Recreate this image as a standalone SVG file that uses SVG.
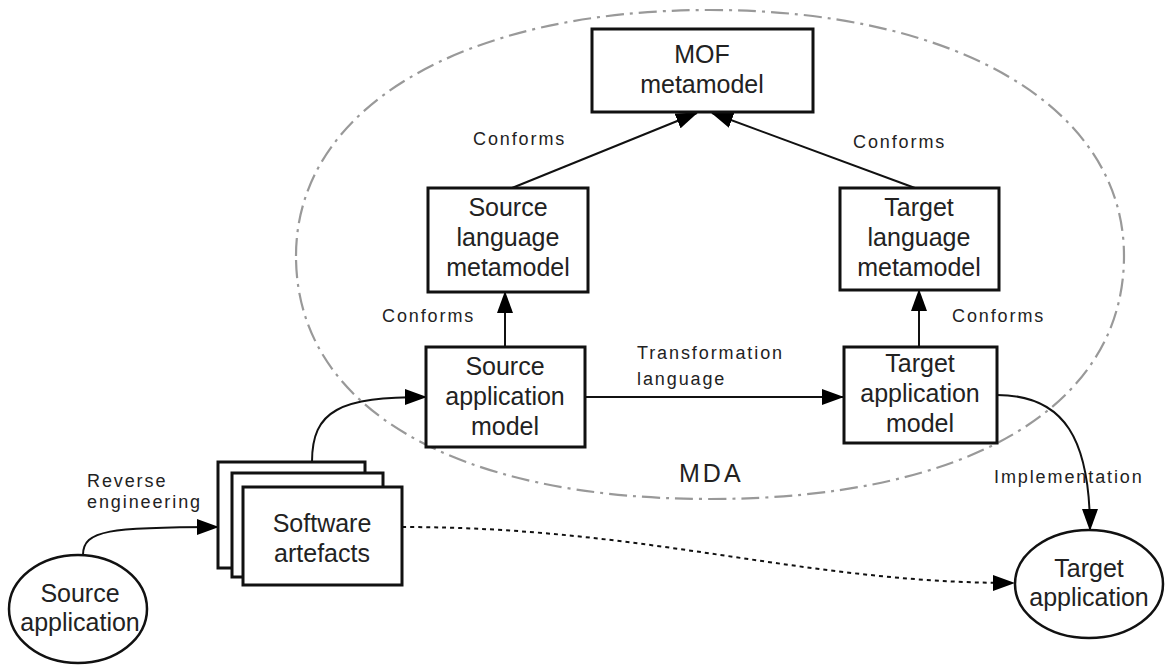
<svg xmlns="http://www.w3.org/2000/svg" width="1167" height="667" viewBox="0 0 1167 667">
<style>
.box{fill:#fff;stroke:#111;stroke-width:3}
.node{font-family:"Liberation Sans",Arial,sans-serif;font-size:25px;fill:#222;text-anchor:middle}
.lbl{font-family:"Liberation Sans",Arial,sans-serif;font-size:18px;fill:#222;letter-spacing:1.9px}
.con{fill:none;stroke:#111;stroke-width:2}
.dot{fill:none;stroke:#111;stroke-width:2;stroke-dasharray:4 4}
</style>
<defs>
<marker id="ah" markerUnits="userSpaceOnUse" markerWidth="22" markerHeight="16" refX="21" refY="8" orient="auto">
<path d="M0,0 L22,8 L0,16 z" fill="#000"/>
</marker>
</defs>
<rect width="1167" height="667" fill="#fff"/>
<g id="mda">
<path d="M296,256 C296,108 462,10 710,10 C958,10 1124,108 1124,256 C1124,407 967,499 710,499 C453,499 296,407 296,256 Z" fill="none" stroke="#999" stroke-width="2.2" stroke-dasharray="18 6 3 6"/>
<text x="679" y="482" font-family="Liberation Sans,Arial,sans-serif" font-size="25" fill="#222" letter-spacing="3">MDA</text>
</g>
<g id="connectors">
<line class="con" x1="512" y1="188" x2="697" y2="113" marker-end="url(#ah)"/>
<line class="con" x1="915" y1="188" x2="712" y2="113" marker-end="url(#ah)"/>
<line class="con" x1="505" y1="347" x2="505" y2="292" marker-end="url(#ah)"/>
<line class="con" x1="919" y1="347" x2="919" y2="290" marker-end="url(#ah)"/>
<line class="con" x1="585" y1="397" x2="843" y2="397" marker-end="url(#ah)"/>
<path class="con" d="M312,462 C312,410 340,397 426,397" marker-end="url(#ah)"/>
<path class="con" d="M83,555 C83,530 110,527 218,527" marker-end="url(#ah)"/>
<path class="con" d="M997,395 C1065,395 1090,440 1090,530" marker-end="url(#ah)"/>
<path class="dot" d="M402,527 C650,527 800,583 1014,583" marker-end="url(#ah)"/>
<text class="lbl" x="473" y="145">Conforms</text>
<text class="lbl" x="853" y="148">Conforms</text>
<text class="lbl" x="382" y="322">Conforms</text>
<text class="lbl" x="952" y="322">Conforms</text>
<text class="lbl" x="637" y="359">Transformation</text>
<text class="lbl" x="637" y="385">language</text>
<text class="lbl" x="87" y="487">Reverse</text>
<text class="lbl" x="87" y="508">engineering</text>
<text class="lbl" x="994" y="483">Implementation</text>
</g>
<g id="mof">
<rect class="box" x="592" y="29" width="221" height="83"/>
<text class="node" x="702" y="63">MOF</text>
<text class="node" x="702" y="93">metamodel</text>
</g>
<g id="source-language-metamodel">
<rect class="box" x="428" y="188" width="160" height="104"/>
<text class="node" x="508" y="216">Source</text>
<text class="node" x="508" y="246">language</text>
<text class="node" x="508" y="276">metamodel</text>
</g>
<g id="target-language-metamodel">
<rect class="box" x="840" y="188" width="159" height="102"/>
<text class="node" x="919" y="216">Target</text>
<text class="node" x="919" y="246">language</text>
<text class="node" x="919" y="276">metamodel</text>
</g>
<g id="source-application-model">
<rect class="box" x="426" y="347" width="159" height="100"/>
<text class="node" x="505" y="375">Source</text>
<text class="node" x="505" y="405">application</text>
<text class="node" x="505" y="435">model</text>
</g>
<g id="target-application-model">
<rect class="box" x="844" y="347" width="153" height="96"/>
<text class="node" x="920" y="372">Target</text>
<text class="node" x="920" y="402">application</text>
<text class="node" x="920" y="432">model</text>
</g>
<g id="software-artefacts">
<rect class="box" x="218" y="462" width="147" height="106"/>
<rect class="box" x="232" y="473" width="151" height="104"/>
<rect class="box" x="243" y="487" width="159" height="98"/>
<text class="node" x="322" y="532">Software</text>
<text class="node" x="322" y="562">artefacts</text>
</g>
<g id="source-application">
<ellipse cx="78" cy="609" rx="69" ry="54" fill="#fff" stroke="#111" stroke-width="2.5"/>
<text class="node" x="80" y="602">Source</text>
<text class="node" x="80" y="631">application</text>
</g>
<g id="target-application">
<ellipse cx="1089" cy="584" rx="74" ry="54" fill="#fff" stroke="#111" stroke-width="2.5"/>
<text class="node" x="1089" y="577">Target</text>
<text class="node" x="1089" y="606">application</text>
</g>
</svg>
